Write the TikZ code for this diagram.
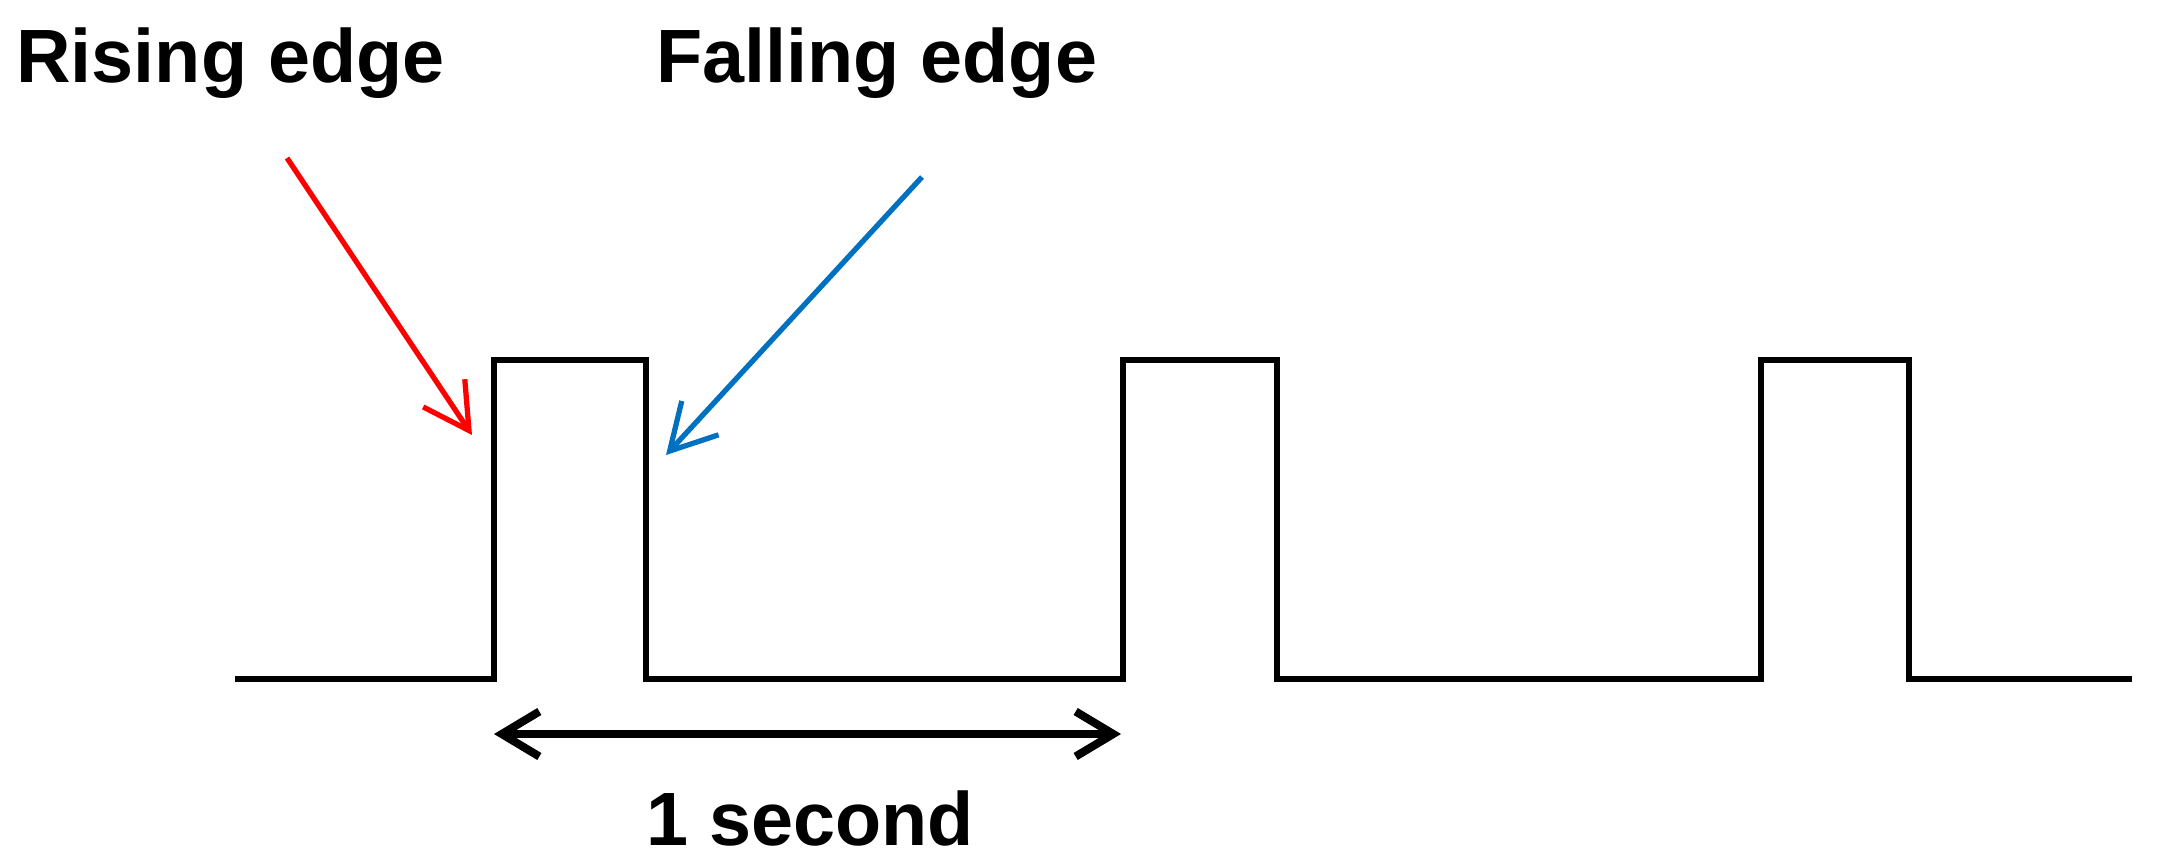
\documentclass[tikz,border=0pt]{standalone}
\usepackage{fontspec}
\setmainfont{Liberation Sans}
\usetikzlibrary{arrows.meta}
\definecolor{edgered}{RGB}{255,0,0}
\definecolor{edgeblue}{RGB}{0,112,192}
\tikzset{
  lbl/.style={anchor=base west, inner sep=0pt, font=\fontsize{43}{50}\selectfont\bfseries},
  wave/.style={line width=3.6pt, line join=miter, black},
  pointer/.style={line width=3pt, -{Straight Barb[length=0.9cm, width=1.0cm, line width=3pt]}},
  span/.style={line width=4.6pt, {Straight Barb[length=0.75cm, width=0.9cm, line width=4.6pt]}-{Straight Barb[length=0.75cm, width=0.9cm, line width=4.6pt]}}
}
\begin{document}
\begin{tikzpicture}[x=0.02cm, y=-0.02cm]
\useasboundingbox (0,0) rectangle (2169,868);
% labels
\node[lbl] (rise) at (16,83) {Rising edge};
\node[lbl] (fall) at (656,83) {Falling edge};
\node[lbl, anchor=base] (sec) at (810,845) {1 second};
% waveform
\draw[wave] (235,679) -- (494,679) -- (494,360) -- (646,360) -- (646,679)
  -- (1123,679) -- (1123,360) -- (1277,360) -- (1277,679)
  -- (1761,679) -- (1761,360) -- (1909,360) -- (1909,679) -- (2132,679);
% pointer arrows
\coordinate (rs) at (287,158);
\coordinate (rt) at (472,435);
\coordinate (bs) at (922,177);
\coordinate (bt) at (666,455);
\draw[pointer, edgered] (rs) -- (rt);
\draw[pointer, edgeblue] (bs) -- (bt);
% one second span
\coordinate (sl) at (494,734);
\coordinate (sr) at (1121,734);
\draw[span] (sl) -- (sr);
\end{tikzpicture}
\end{document}
